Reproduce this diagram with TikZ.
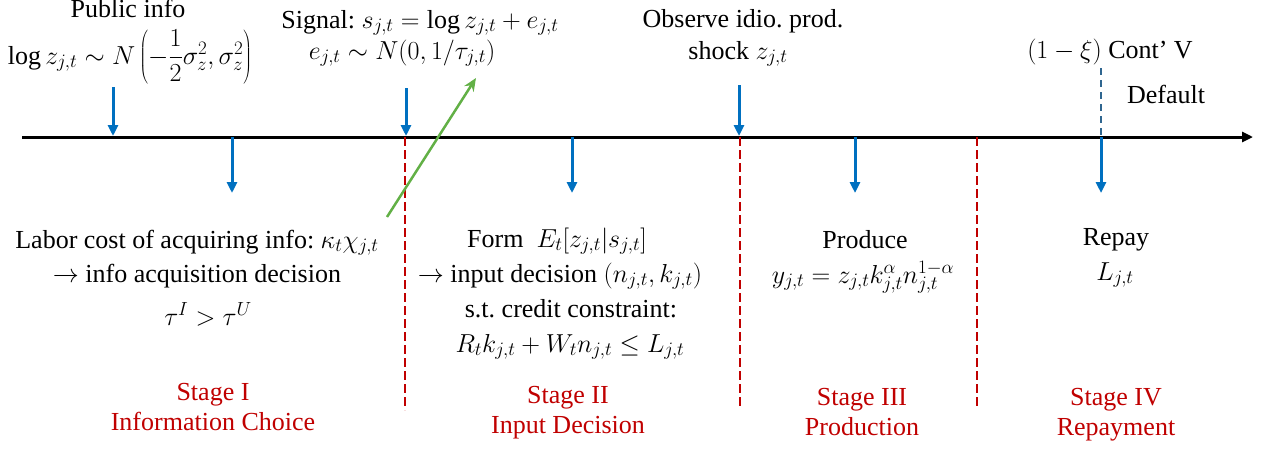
\RequirePackage{fix-cm}
\documentclass[tikz,border=0pt]{standalone}
\usepackage{fontspec}
\setmainfont{Liberation Serif}
\DeclareMathSizes{26}{26}{19}{15}
\usetikzlibrary{arrows.meta}
\definecolor{myblue}{HTML}{0070C0}
\definecolor{myred}{HTML}{C00000}
\definecolor{mygreen}{HTML}{62B046}
\definecolor{dblue}{HTML}{2F6690}
\begin{document}
\frenchspacing
\begin{tikzpicture}[x=1pt,y=-1pt,
  txt/.style={anchor=base,inner sep=0pt,font=\fontsize{26}{32}\selectfont},
  stg/.style={txt,text=myred},
  axisline/.style={draw=black,line width=3pt,-{Triangle[length=11pt,width=10pt]}},
  barrow/.style={draw=myblue,line width=3pt,-{Triangle[length=11pt,width=10pt]}},
  sepline/.style={draw=myred,line width=1.5pt,dash pattern=on 9pt off 4pt},
  defline/.style={draw=dblue,line width=2.5pt,dash pattern=on 7pt off 5pt},
  garrow/.style={draw=mygreen,line width=2.5pt,-{Stealth[length=13pt,width=11pt]}}]
\useasboundingbox (0,0) rectangle (1263,448);

% axis
\coordinate (a0) at (22,137);
\coordinate (a1) at (1253,137);
\draw[axisline] (a0) -- (a1);

% separators
\coordinate (s1t) at (405,137); \coordinate (s1b) at (405,410);
\coordinate (s2t) at (740,137); \coordinate (s2b) at (740,408);
\coordinate (s3t) at (977,137); \coordinate (s3b) at (977,408);
\draw[sepline] (s1t) -- (s1b);
\draw[sepline] (s2t) -- (s2b);
\draw[sepline] (s3t) -- (s3b);

% arrows above the axis
\coordinate (u1s) at (113,87);  \coordinate (u1e) at (113,136);
\coordinate (u2s) at (406,88);  \coordinate (u2e) at (406,136);
\coordinate (u3s) at (739,85);  \coordinate (u3e) at (739,136);
\draw[barrow] (u1s) -- (u1e);
\draw[barrow] (u2s) -- (u2e);
\draw[barrow] (u3s) -- (u3e);

% arrows below the axis
\coordinate (d1s) at (232,137); \coordinate (d1e) at (232,193);
\coordinate (d2s) at (572,137); \coordinate (d2e) at (572,193);
\coordinate (d3s) at (855,137); \coordinate (d3e) at (855,193);
\coordinate (d4s) at (1101,137); \coordinate (d4e) at (1101,193);
\draw[barrow] (d1s) -- (d1e);
\draw[barrow] (d2s) -- (d2e);
\draw[barrow] (d3s) -- (d3e);
\draw[barrow] (d4s) -- (d4e);

% default dashed line
\coordinate (dft) at (1101,68); \coordinate (dfb) at (1101,136);
\draw[defline] (dft) -- (dfb);

% green arrow
\coordinate (gs) at (387,217); \coordinate (ge) at (476,78);
\draw[garrow] (gs) -- (ge);

% top texts
\node[txt] (pub1) at (128,17) {Public info};
\node[txt] (pub2) at (130,64) {$\log z_{j,t}\sim N\left(-{\displaystyle\frac{1}{2}}\sigma_z^2,\sigma_z^2\right)$};
\node[txt] (sig1) at (420,28) {Signal: $s_{j,t}=\log z_{j,t}+e_{j,t}$};
\node[txt] (sig2) at (402,59) {$e_{j,t}\sim N\bigl(0,1/\tau_{j,t}\bigr)$};
\node[txt] (obs1) at (743,27) {Observe idio. prod.};
\node[txt] (obs2) at (738,59) {shock $z_{j,t}$};
\node[txt] (cont) at (1110,58) {$(1-\xi)$ Cont’ V};
\node[txt] (dflt) at (1166,103) {Default};

% stage I
\node[txt] (l1a) at (197,248) {Labor cost of acquiring info: $\kappa_t\chi_{j,t}$};
\node[txt] (l1b) at (197,282) {$\rightarrow$ info acquisition decision};
\node[txt] (l1c) at (208,325) {$\tau^I>\tau^U$};
\node[stg] (st1a) at (213,400) {Stage I};
\node[stg] (st1b) at (213,430) {Information Choice};

% stage II
\node[txt] (l2a) at (557,247) {Form\ \ $E_t\bigl[z_{j,t}|s_{j,t}\bigr]$};
\node[txt] (l2b) at (560,282) {$\rightarrow$ input decision $(n_{j,t},k_{j,t})$};
\node[txt] (l2c) at (571,317) {s.t. credit constraint:};
\node[txt] (l2d) at (570,352) {$R_tk_{j,t}+W_tn_{j,t}\le L_{j,t}$};
\node[stg] (st2a) at (568,403) {Stage II};
\node[stg] (st2b) at (568,433) {Input Decision};

% stage III
\node[txt] (l3a) at (865,248) {Produce};
\node[txt] (l3b) at (863,283) {$y_{j,t}=z_{j,t}k_{j,t}^{\alpha}n_{j,t}^{1-\alpha}$};
\node[stg] (st3a) at (862,405) {Stage III};
\node[stg] (st3b) at (862,435) {Production};

% stage IV
\node[txt] (l4a) at (1116,245) {Repay};
\node[txt] (l4b) at (1115,280) {$L_{j,t}$};
\node[stg] (st4a) at (1116,405) {Stage IV};
\node[stg] (st4b) at (1116,435) {Repayment};
\end{tikzpicture}
\end{document}
